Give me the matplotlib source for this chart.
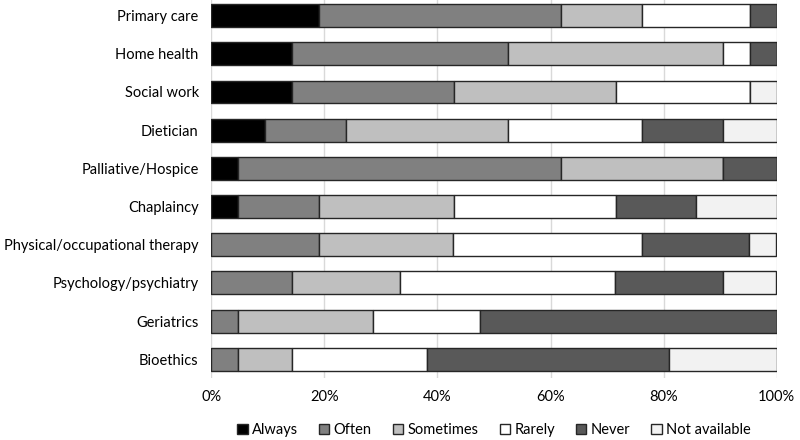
import matplotlib.pyplot as plt
import numpy as np

plt.rcParams['font.family'] = ['Lato', 'DejaVu Sans']

servicios = ['Primary care', 'Home health', 'Social work', 'Dietician',
             'Palliative/Hospice', 'Chaplaincy', 'Physical/occupational therapy',
             'Psychology/psychiatry', 'Geriatrics', 'Bioethics']

categorias = ['Always', 'Often', 'Sometimes', 'Rarely', 'Never', 'Not available']

# porcentajes
always    = [19.0, 14.3, 14.3,  9.5,  4.8,  4.8,  0.0,  0.0,  0.0,  0.0]
often     = [42.9, 38.1, 28.6, 14.3, 57.1, 14.3, 19.0, 14.3,  4.8,  4.8]
sometimes = [14.3, 38.1, 28.6, 28.6, 28.6, 23.8, 23.8, 19.0, 23.8,  9.5]
rarely    = [19.0,  4.8, 23.8, 23.8,  0.0, 28.6, 33.3, 38.1, 19.0, 23.8]
never     = [ 4.8,  4.8,  0.0, 14.3,  9.5, 14.3, 19.0, 19.0, 52.4, 42.9]
no_disp   = [ 0.0,  0.0,  4.8,  9.5,  0.0, 14.3,  4.8,  9.5,  0.0, 19.0]

colores = ['#000000', '#808080', '#bfbfbf', '#ffffff', '#595959', '#f2f2f2']

series = [always, often, sometimes, rarely, never, no_disp]

fig = plt.figure(figsize=(8, 4.4), dpi=100)
ax = fig.add_axes([0.264, 0.14, 0.707, 0.868])

y = np.arange(len(servicios))
izq = np.zeros(len(servicios))
for nombre, vals, col in zip(categorias, series, colores):
    vals = np.array(vals)
    ax.barh(y, vals, left=izq, height=0.6, color=col, edgecolor='#262626',
            linewidth=1, label=nombre, zorder=3)
    izq += vals

ax.set_xlim(0, 100)
ax.set_ylim(9.5, -0.5)
ax.set_yticks(y)
ax.set_yticklabels(servicios, fontsize=10.5)
ax.set_xticks([0, 20, 40, 60, 80, 100])
ax.set_xticklabels(['0%', '20%', '40%', '60%', '80%', '100%'], fontsize=10.5)
ax.tick_params(length=0, pad=9)
ax.tick_params(axis='x', pad=8)
ax.grid(axis='x', color='#d9d9d9', linewidth=1, zorder=0)
for s in ax.spines.values():
    s.set_visible(False)

ax.legend(loc='center', bbox_to_anchor=(0.5, -0.135), ncol=6,
          frameon=False, fontsize=10.5, handlelength=0.7, handleheight=0.7,
          handletextpad=0.3, columnspacing=1.45, borderaxespad=0)

plt.savefig('out.png', dpi=100)
